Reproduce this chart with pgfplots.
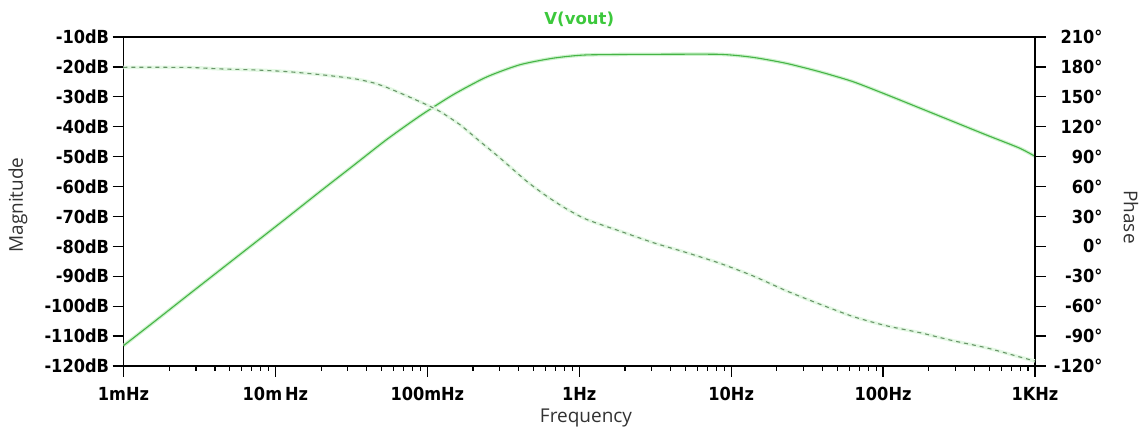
\documentclass[border=0pt]{standalone}
\usepackage{fontspec}
\usepackage{pgfplots}
\usepackage{pgfplotstable}
\pgfplotsset{compat=1.18}
\setmainfont{Open Sans}
\newfontfamily\tickfont{DejaVu Sans Condensed}
\newfontfamily\titlefont{DejaVu Sans}
\definecolor{curve}{RGB}{70,180,70}
\definecolor{halo}{RGB}{205,242,205}
\definecolor{halo2}{RGB}{228,248,228}
\definecolor{titlegreen}{RGB}{60,200,60}
\definecolor{dashc}{RGB}{105,150,105}
\definecolor{labc}{RGB}{50,50,50}

\pgfplotstableread{
f mag
0.001 -113.2
0.001574 -105.4
0.002612 -96.6
0.004325 -87.9
0.007161 -79.2
0.01186 -70.5
0.01963 -61.7
0.03258 -53.0
0.05395 -44.3
0.08933 -36.4
0.1479 -29.3
0.2449 -23.4
0.4055 -19.3
0.6714 -17.1
1.112 -16.0
3.048 -15.8
8.375 -15.8
13.87 -16.8
23.01 -18.8
38.11 -21.6
63.10 -24.9
104.5 -29.2
173.4 -33.7
287.1 -38.2
475.3 -42.7
787.0 -47.1
1000 -49.9
}\magdata

\pgfplotstableread{
f ph
0.001 179.6
0.002612 179.5
0.004325 178.0
0.007161 177
0.01186 175.3
0.01963 172.3
0.03258 168.3
0.04416 164.0
0.05395 159.5
0.07311 151.0
0.09908 142
0.1211 135.3
0.1641 122
0.2218 105.3
0.3006 88.7
0.4508 65.3
0.6109 50.3
0.8260 37.5
1.119 27
1.854 15.3
3.069 3.7
5.093 -6.3
8.433 -17
13.96 -29.7
23.17 -44.7
38.37 -58
63.68 -70.5
105.4 -79.7
175.0 -86.6
289.7 -94.7
480.8 -101.8
796.2 -111.0
1000 -115
}\phdata

\begin{document}
\begin{tikzpicture}[x=1pt,y=1pt]
\path (0,0) rectangle (1144,433);
\begin{axis}[
  at={(123.5pt,67pt)}, anchor=south west,
  scale only axis, width=911.5pt, height=329pt,
  xmode=log, log basis x=10, xmin=1e-3, xmax=1e3,
  ymin=-120, ymax=-10,
  xtick={1e-3,1e-2,1e-1,1,10,100,1000},
  xticklabels={1mHz,10m\,Hz,100mHz,1Hz,10Hz,100Hz,1KHz},
  minor xtick={2e-3,3e-3,4e-3,5e-3,6e-3,7e-3,8e-3,9e-3,
    2e-2,3e-2,4e-2,5e-2,6e-2,7e-2,8e-2,9e-2,
    0.2,0.3,0.4,0.5,0.6,0.7,0.8,0.9,
    2,3,4,5,6,7,8,9,20,30,40,50,60,70,80,90,
    200,300,400,500,600,700,800,900},
  ytick={-120,-110,...,-10},
  yticklabels={-120dB,-110dB,-100dB,-90dB,-80dB,-70dB,-60dB,-50dB,-40dB,-30dB,-20dB,-10dB},
  tick pos=left,
  tick align=outside,
  major tick length=11pt, minor tick length=5pt,
  every tick/.style={black, line width=1.2pt},
  axis line style={line width=1.3pt},
  tick label style={font=\tickfont\bfseries\fontsize{18}{18}\selectfont, text=black},
  xticklabel style={yshift=-7pt},
  title={V(vout)},
  title style={font=\titlefont\bfseries\fontsize{16.5}{16.5}\selectfont, text=titlegreen, at={(0.5,1)}, anchor=base, yshift=6pt},
]
\addplot[halo, line width=3.5pt, smooth, tension=0.4] table[x=f,y=mag]{\magdata};
\addplot[curve, line width=1.1pt, smooth, tension=0.4] table[x=f,y=mag]{\magdata};
\end{axis}
\begin{axis}[
  at={(123.5pt,67pt)}, anchor=south west,
  scale only axis, width=911.5pt, height=329pt,
  xmode=log, log basis x=10, xmin=1e-3, xmax=1e3,
  ymin=-120, ymax=210,
  axis x line=none, axis y line*=right,
  ytick={-120,-90,...,210},
  yticklabels={-120°,-90°,-60°,-30°,0°,30°,60°,90°,120°,150°,180°,210°},
  tick align=outside,
  major tick length=11pt,
  every tick/.style={black, line width=1.2pt},
  axis line style={line width=1.3pt},
  yticklabel style={font=\tickfont\bfseries\fontsize{18}{18}\selectfont, text=black, anchor=east, xshift=60pt},
]
\addplot[halo2, line width=3.5pt, smooth, tension=0.4] table[x=f,y=ph]{\phdata};
\addplot[dashc, line width=1.1pt, smooth, tension=0.4, dash pattern=on 4pt off 4pt] table[x=f,y=ph]{\phdata};
\end{axis}
\node[rotate=90, font=\fontsize{19}{19}\selectfont, text=labc] at (18,228) {Magnitude};
\node[rotate=-90, font=\fontsize{19}{19}\selectfont, text=labc] at (1131,216) {Phase};
\node[font=\fontsize{19}{19}\selectfont, text=labc] at (586,15) {Frequency};
\end{tikzpicture}
\end{document}
